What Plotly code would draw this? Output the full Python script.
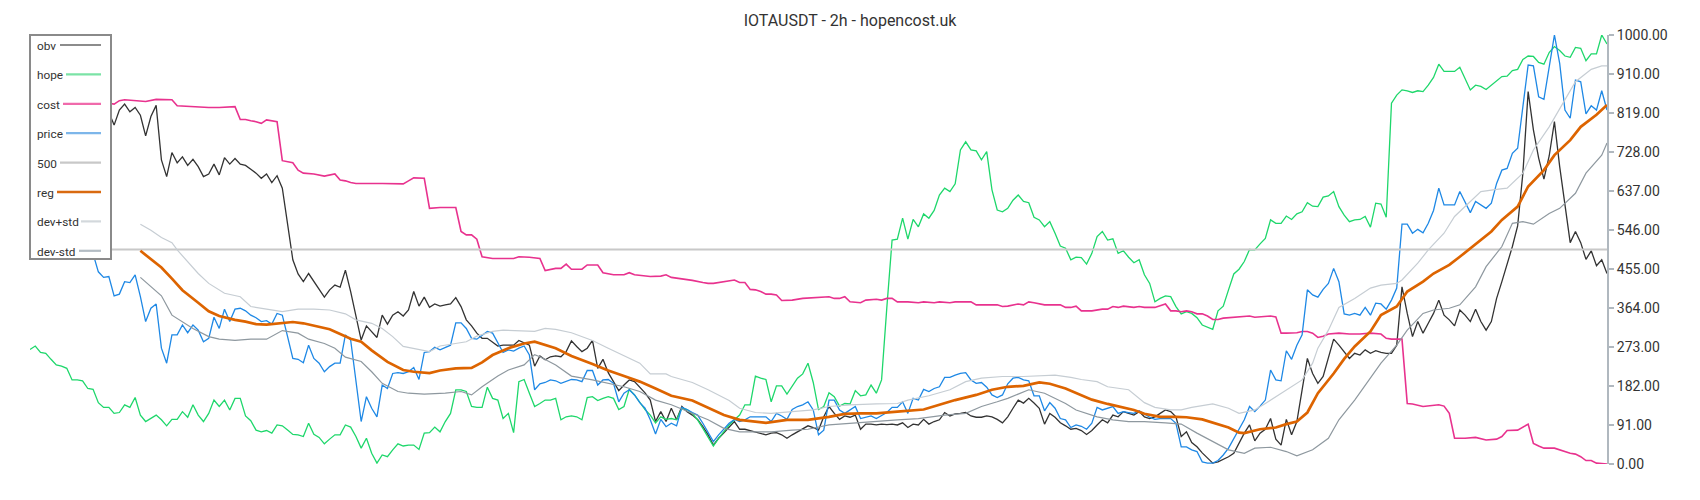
import plotly.graph_objects as go

# ---------------- data (x = bar index 0..300) ----------------
title_text = "IOTAUSDT - 2h - hopencost.uk"
y_ticks = [0, 91, 182, 273, 364, 455, 546, 637, 728, 819, 910, 1000]
series_names = ["obv", "hope", "cost", "price", "500", "reg", "dev+std", "dev-std"]

obv_head_x = [0, 5, 10]
obv_head_y = [835, 845, 830]
obv_start = 15
obv_vals = [
    820, 790, 825, 839, 821,
    831, 813, 765, 810, 836, 709, 670, 726, 702, 716,
    696, 710, 693, 670, 676, 699, 674, 714, 699, 712,
    699, 696, 687, 678, 666, 676, 656, 672, 643, 553,
    476, 443, 425, 444, 425, 407, 389, 406, 417, 412,
    452, 402, 343, 289, 322, 308, 295, 347, 326, 347,
    355, 345, 359, 402, 368, 389, 365, 373, 368, 371,
    373, 388, 367, 336, 322, 305, 293, 293, 283, 275,
    277, 277, 277, 288, 283, 277, 228, 252, 243, 250,
    252, 250, 262, 287, 274, 262, 270, 288, 223, 244,
    213, 192, 171, 184, 196, 192, 180, 166, 149, 99,
    122, 99, 130, 103, 134, 122, 114, 104, 87, 68,
    44, 60, 73, 85, 99, 81, 81, 78, 75, 72,
    68, 72, 73, 68, 60, 68, 75, 83, 89, 85,
    79, 110, 134, 118, 104, 112, 109, 114, 81, 93,
    93, 91, 93, 92, 93, 91, 96, 85, 93, 91,
    104, 93, 99, 103, 120, 112, 117, 118, 120, 112,
    109, 109, 112, 110, 104, 96, 110, 130, 149, 142,
    153, 142, 130, 93, 118, 109, 96, 89, 81, 83,
    78, 69, 78, 91, 103, 96, 114, 110, 122, 118,
    114, 122, 110, 106, 110, 118, 126, 122, 110, 64,
    75, 50, 40, 26, 13, 2, 5, 11, 17, 25,
    48, 72, 91, 54, 72, 81, 106, 58, 44, 104,
    68, 99, 173, 246, 211, 188, 204, 246, 291, 277,
    262, 246, 258, 254, 266, 258, 264, 260, 258, 258,
    277, 413, 351, 297, 332, 305, 328, 351, 382, 347,
    336, 322, 359, 347, 332, 361, 332, 312, 332, 386,
    425, 464, 507, 555, 678, 868, 779, 713, 664, 718,
    798, 693, 600, 516, 542, 516, 477, 497, 462, 476,
    444,
]

hope_start = 0
hope_vals = [
    267, 275, 260, 258, 244, 231, 228, 223, 196, 196,
    194, 176, 174, 143, 132, 132, 118, 120, 138, 132,
    155, 114, 99, 106, 114, 103, 89, 104, 104, 122,
    109, 138, 114, 99, 118, 149, 134, 149, 126, 153,
    153, 112, 101, 79, 75, 78, 72, 91, 89, 79,
    69, 68, 64, 95, 69, 62, 47, 58, 68, 68,
    91, 86, 64, 37, 60, 25, 2, 21, 17, 33,
    47, 42, 44, 44, 34, 72, 73, 86, 75, 99,
    118, 173, 173, 169, 134, 132, 132, 179, 153, 149,
    106, 118, 73, 192, 197, 165, 134, 141, 149, 149,
    153, 103, 110, 112, 110, 103, 155, 157, 148, 153,
    157, 153, 127, 134, 174, 161, 145, 127, 114, 96,
    110, 104, 106, 103, 130, 127, 118, 103, 83, 64,
    42, 60, 75, 91, 103, 114, 138, 138, 205, 200,
    197, 145, 182, 182, 163, 182, 200, 210, 235, 190,
    127, 134, 166, 157, 135, 141, 140, 171, 159, 161,
    184, 165, 196, 365, 522, 524, 573, 524, 570, 553,
    583, 573, 591, 627, 643, 635, 653, 732, 751, 732,
    730, 709, 728, 639, 592, 588, 596, 615, 627, 612,
    609, 575, 569, 553, 565, 538, 508, 503, 476, 482,
    481, 466, 491, 530, 542, 522, 525, 491, 497, 482,
    469, 476, 441, 421, 378, 386, 392, 390, 367, 350,
    355, 351, 341, 324, 319, 314, 357, 368, 406, 443,
    454, 472, 500, 499, 513, 526, 569, 561, 561, 578,
    570, 583, 588, 609, 601, 600, 622, 625, 635, 600,
    580, 565, 569, 570, 577, 552, 608, 606, 575, 841,
    860, 872, 870, 866, 870, 868, 883, 901, 932, 915,
    915, 915, 925, 899, 872, 883, 880, 873, 883, 895,
    903, 904, 917, 920, 943, 951, 950, 936, 932, 959,
    973, 964, 951, 948, 971, 969, 940, 956, 956, 1000,
    979,
]

cost_points = [
    (0, 1000), (2, 990), (5, 930), (8, 885), (11, 860), (13, 850),
    (15, 841), (16, 839), (17, 847), (18, 849), (22, 845), (24, 850), (27, 849),
    (28, 835), (31, 833), (32, 831), (34, 831), (36, 831), (39, 833),
    (40, 803), (41, 803), (42, 800), (43, 798), (44, 794), (45, 802), (47, 798),
    (48, 707), (50, 702), (51, 685), (52, 678), (54, 676), (56, 671), (58, 676),
    (59, 662), (60, 660), (61, 656), (62, 654), (67, 654), (69, 653), (71, 653),
    (72, 660), (73, 667), (75, 666), (76, 596), (78, 598), (81, 598),
    (82, 542), (83, 534), (84, 534), (85, 524), (86, 483), (88, 479), (92, 479),
    (93, 483), (95, 482), (97, 479), (98, 451), (100, 456), (101, 456), (102, 466),
    (103, 454), (105, 454), (106, 464), (108, 464), (109, 446), (111, 441), (113, 441),
    (114, 446), (115, 441), (117, 438), (118, 437), (120, 438), (121, 441), (122, 435),
    (124, 432), (126, 428), (128, 423), (129, 421), (130, 421), (131, 423), (133, 427),
    (134, 429), (135, 423), (136, 423), (137, 407), (138, 406), (139, 402), (140, 396),
    (141, 396), (142, 394), (143, 381), (144, 381), (145, 382), (147, 386), (150, 389),
    (152, 390), (153, 386), (154, 386), (155, 390), (156, 378), (158, 376), (159, 382),
    (161, 384), (162, 382), (163, 386), (164, 386), (165, 378), (167, 378), (169, 376),
    (170, 378), (172, 376), (173, 378), (175, 376), (176, 378), (179, 378), (180, 371),
    (184, 371), (185, 367), (186, 368), (187, 371), (188, 373), (189, 371), (190, 378),
    (191, 376), (192, 373), (193, 371), (196, 371), (197, 365), (198, 365), (199, 368),
    (200, 357), (202, 357), (204, 361), (205, 361), (206, 367), (207, 365), (208, 368),
    (210, 365), (211, 367), (212, 365), (214, 365), (216, 373), (217, 357), (218, 357),
    (219, 355), (220, 357), (221, 355), (222, 350), (223, 350), (224, 345), (225, 337),
    (226, 337), (227, 340), (229, 342), (230, 343), (231, 345), (232, 345), (233, 342),
    (234, 343), (235, 345), (236, 345), (237, 343), (238, 305), (239, 305), (240, 306),
    (241, 306), (242, 309), (243, 309), (244, 305), (245, 295), (246, 298), (247, 303),
    (249, 305), (251, 303), (253, 303), (255, 305), (257, 303), (258, 293), (259, 291),
    (261, 291), (262, 141), (263, 140), (265, 134), (266, 135), (268, 138), (269, 135),
    (270, 118), (271, 60), (273, 60), (275, 62), (277, 56), (279, 58), (280, 64),
    (281, 78), (283, 79), (285, 93), (286, 48), (287, 42), (288, 37), (290, 37),
    (291, 33), (293, 25), (294, 23), (295, 17), (296, 8), (297, 8), (298, 2), (300, 0),
]

price_head_x = [0, 4, 8, 12]
price_head_y = [560, 545, 520, 490]
price_start = 13
price_vals = [
    448, 435, 437, 392, 396, 425, 423,
    441, 390, 332, 363, 373, 270, 235, 301, 301, 324,
    306, 324, 312, 285, 293, 342, 316, 361, 332, 361,
    363, 357, 347, 341, 332, 334, 326, 351, 347, 297,
    246, 244, 236, 277, 246, 235, 215, 227, 235, 235,
    301, 289, 196, 99, 157, 130, 110, 184, 176, 211,
    213, 211, 215, 225, 197, 260, 262, 272, 266, 272,
    277, 329, 329, 316, 293, 291, 301, 309, 305, 281,
    260, 266, 263, 270, 275, 254, 173, 187, 190, 196,
    194, 188, 192, 197, 196, 192, 218, 218, 184, 196,
    197, 188, 145, 165, 173, 161, 143, 130, 103, 70,
    104, 87, 95, 89, 132, 127, 120, 114, 95, 73,
    52, 68, 81, 95, 104, 99, 103, 110, 110, 110,
    110, 99, 118, 112, 104, 127, 134, 138, 145, 126,
    68, 79, 149, 149, 126, 118, 127, 134, 106, 109,
    112, 106, 114, 120, 132, 132, 145, 118, 153, 149,
    174, 169, 176, 180, 202, 202, 207, 211, 213, 196,
    188, 190, 179, 161, 155, 161, 187, 200, 202, 196,
    194, 159, 159, 124, 143, 130, 106, 103, 85, 91,
    88, 81, 95, 132, 126, 130, 134, 118, 122, 120,
    118, 124, 117, 109, 104, 106, 106, 106, 95, 40,
    40, 33, 29, 5, 2, 2, 8, 21, 37, 60,
    83, 103, 134, 122, 135, 149, 219, 196, 194, 264,
    244, 277, 301, 406, 394, 389, 407, 421, 456, 425,
    350, 347, 351, 347, 365, 347, 375, 373, 361, 382,
    410, 559, 559, 538, 547, 539, 561, 591, 643, 604,
    604, 604, 635, 612, 586, 612, 604, 596, 608, 654,
    685, 689, 724, 736, 833, 930, 928, 856, 850, 922,
    1000, 934, 825, 806, 895, 891, 816, 835, 825, 870,
    825,
]

level_500 = 500
level_500_x = [0, 300]

reg_points = [
    (21, 497), (23, 477), (25, 458), (27, 432), (29, 405), (32, 376), (34, 356),
    (36, 345), (39, 336), (41, 332), (43, 326), (45, 325), (48, 329), (50, 331),
    (52, 328), (55, 320), (57, 314), (59, 303), (61, 292), (63, 285), (65, 265),
    (68, 238), (71, 219), (73, 215), (76, 212), (78, 218), (81, 223), (84, 224),
    (86, 237), (88, 254), (91, 270), (94, 281), (96, 285), (100, 270), (103, 252),
    (107, 233), (110, 218), (113, 205), (116, 192), (119, 176), (122, 159), (126, 148),
    (129, 131), (132, 114), (135, 103), (138, 99), (140, 96), (144, 103), (148, 103),
    (152, 110), (155, 117), (158, 118), (161, 118), (165, 122), (167, 124), (170, 127),
    (173, 138), (176, 149), (180, 161), (183, 173), (186, 180), (189, 182), (192, 190),
    (194, 187), (197, 176), (199, 165), (202, 150), (205, 140), (207, 134), (210, 126),
    (212, 117), (215, 110), (218, 110), (220, 109), (223, 104), (225, 96), (228, 85),
    (230, 73), (231, 72), (234, 81), (237, 85), (239, 93), (241, 99), (243, 120),
    (245, 165), (248, 211), (250, 245), (252, 274), (255, 309), (257, 347), (260, 367),
    (262, 402), (265, 425), (267, 444), (270, 464), (272, 483), (275, 513), (278, 542),
    (280, 569), (283, 600), (285, 647), (288, 685), (290, 720), (293, 755), (295, 786),
    (298, 814), (300, 837),
]

dev_plus_points = [
    (21, 559), (23, 545), (25, 528), (27, 516), (28, 499), (30, 472), (32, 444),
    (34, 421), (36, 406), (37, 398), (40, 390), (42, 367), (45, 361), (48, 355),
    (51, 361), (54, 361), (57, 359), (60, 350), (62, 336), (65, 328), (67, 316),
    (69, 297), (71, 274), (74, 266), (76, 262), (78, 275), (81, 280), (83, 285),
    (85, 298), (88, 309), (90, 312), (93, 311), (96, 309), (98, 316), (100, 314),
    (103, 306), (107, 288), (110, 270), (113, 252), (116, 235), (118, 210), (121, 210),
    (122, 204), (126, 190), (129, 173), (133, 148), (135, 130), (138, 120), (141, 118),
    (145, 122), (149, 126), (152, 134), (156, 138), (161, 140), (165, 141), (167, 149),
    (171, 159), (175, 173), (178, 192), (181, 200), (185, 204), (189, 204), (193, 205),
    (195, 207), (198, 202), (200, 197), (203, 192), (205, 180), (209, 173), (212, 143),
    (214, 132), (217, 126), (219, 126), (221, 132), (225, 140), (228, 130), (230, 118),
    (233, 126), (235, 141), (237, 157), (239, 171), (242, 196), (244, 235), (245, 270),
    (247, 312), (249, 365), (252, 386), (255, 410), (257, 417), (260, 421), (261, 429),
    (264, 468), (266, 499), (269, 538), (271, 577), (274, 612), (276, 635), (279, 640),
    (281, 643), (284, 678), (286, 732), (289, 786), (292, 849), (294, 891), (297, 920),
    (299, 928), (300, 928),
]

dev_minus_points = [
    (21, 435), (23, 413), (25, 392), (27, 347), (29, 332), (31, 316), (34, 297),
    (36, 291), (39, 288), (42, 291), (45, 291), (48, 311), (51, 305), (53, 291),
    (56, 281), (58, 270), (60, 249), (63, 239), (65, 215), (67, 188), (70, 169),
    (72, 165), (75, 163), (79, 165), (82, 169), (84, 161), (86, 180), (89, 205),
    (91, 219), (94, 231), (96, 255), (97, 250), (100, 231), (103, 205), (107, 196),
    (110, 188), (113, 180), (116, 169), (119, 149), (122, 138), (126, 118), (129, 103),
    (132, 83), (135, 75), (138, 75), (141, 75), (145, 79), (148, 81), (152, 91),
    (156, 95), (161, 99), (165, 103), (169, 106), (174, 114), (178, 118), (181, 134),
    (184, 145), (186, 153), (190, 173), (193, 165), (197, 141), (199, 126), (203, 110),
    (206, 103), (209, 99), (212, 99), (216, 96), (219, 93), (222, 72), (225, 52),
    (228, 33), (231, 25), (233, 37), (236, 39), (239, 29), (241, 19), (244, 33),
    (247, 60), (249, 103), (252, 149), (255, 200), (257, 235), (260, 277), (262, 312),
    (265, 351), (267, 359), (270, 363), (272, 371), (275, 413), (277, 460), (280, 507),
    (282, 561), (284, 565), (286, 559), (289, 584), (291, 596), (294, 631), (296, 678),
    (299, 720), (300, 748),
]

# ---------------- styles ----------------
line_colors = {
    "obv": "#333333", "hope": "#1ed76b", "cost": "#e8328e", "price": "#1e88e5",
    "500": "#c8c8c8", "reg": "#dd6400", "dev+std": "#c6cdd3", "dev-std": "#8e989f",
}
line_widths = {
    "obv": 1.3, "hope": 1.3, "cost": 1.6, "price": 1.3,
    "500": 2, "reg": 2.7, "dev+std": 1.2, "dev-std": 1.2,
}
legend_colors = {
    "obv": "#8c8c8c", "hope": "#7be3a6", "cost": "#f06aab", "price": "#7db6ea",
    "500": "#c8c8c8", "reg": "#d96a10", "dev+std": "#d3d8dc", "dev-std": "#b3bcc3",
}
# legend sample line start (page px) for each item
legend_line_start = {
    "obv": 60, "hope": 66, "cost": 63, "price": 66,
    "500": 60, "reg": 57, "dev+std": 81, "dev-std": 79,
}

FONT = "Roboto, 'Open Sans', sans-serif"
OFF = 8                      # page body margin in the browser
W, H = 1700 - 2 * OFF, 500 - 2 * OFF
# target page-pixel plot box: x 30..1607, y 35..464
ML = 30 - OFF
MT = 35 - OFF
MR = W - (1607 - OFF)
MB = H - (464 - OFF)
PW, PH = W - ML - MR, H - MT - MB


def px_x(x):
    return (x - OFF - ML) / PW


def px_y(y):
    return (H - MB - (y - OFF)) / PH


def unzip(points):
    return [p[0] for p in points], [p[1] for p in points]


series_xy = {
    "obv": (obv_head_x + list(range(obv_start, obv_start + len(obv_vals))),
            obv_head_y + obv_vals),
    "hope": (list(range(hope_start, hope_start + len(hope_vals))), hope_vals),
    "cost": unzip(cost_points),
    "price": (price_head_x + list(range(price_start, price_start + len(price_vals))),
              price_head_y + price_vals),
    "500": (level_500_x, [level_500] * len(level_500_x)),
    "reg": unzip(reg_points),
    "dev+std": unzip(dev_plus_points),
    "dev-std": unzip(dev_minus_points),
}

fig = go.Figure()
for name in series_names:
    xs, ys = series_xy[name]
    fig.add_trace(go.Scatter(
        x=xs, y=ys, mode="lines", name=name, showlegend=False,
        line=dict(color=line_colors[name], width=line_widths[name]),
        hoverinfo="skip",
    ))

# custom legend (text on the left, sample line on the right)
shapes = [dict(
    type="rect", xref="paper", yref="paper", layer="above",
    x0=px_x(30), x1=px_x(111), y0=px_y(259), y1=px_y(35),
    line=dict(color="#8a8a8a", width=2), fillcolor="white",
)]
annotations = []
for k, name in enumerate(series_names):
    yc = 45 + 29.4 * k
    shapes.append(dict(
        type="line", xref="paper", yref="paper", layer="above",
        x0=px_x(legend_line_start[name]), x1=px_x(101),
        y0=px_y(yc), y1=px_y(yc),
        line=dict(color=legend_colors[name], width=2.2 if name != "reg" else 2.5),
    ))
    annotations.append(dict(
        text=name, xref="paper", yref="paper", x=px_x(34.5), y=px_y(yc + 1),
        xanchor="left", yanchor="middle", showarrow=False,
        font=dict(family=FONT, size=11.8, color="#333333"),
    ))

fig.update_layout(
    width=W, height=H, autosize=False,
    margin=dict(l=ML, r=MR, t=MT, b=MB, pad=0),
    paper_bgcolor="white", plot_bgcolor="white",
    title=dict(text=title_text, x=(850 - OFF) / W, xref="container", xanchor="center",
               y=1 - (20 - OFF) / H, yref="container", yanchor="middle",
               font=dict(family=FONT, size=16, color="#333333")),
    xaxis=dict(visible=False, range=[0, 300]),
    yaxis=dict(
        side="right", range=[0, 1000], tickvals=y_ticks,
        ticktext=[f"{v:.2f}" for v in y_ticks],
        showgrid=False, zeroline=False,
        showline=True, linecolor="#b0b8bf", linewidth=2,
        ticks="outside", ticklen=5, tickcolor="#b0b8bf", tickwidth=1.5,
        tickfont=dict(family=FONT, size=14, color="#333333"),
    ),
    shapes=shapes, annotations=annotations, showlegend=False,
)

fig.write_html("out.html")
